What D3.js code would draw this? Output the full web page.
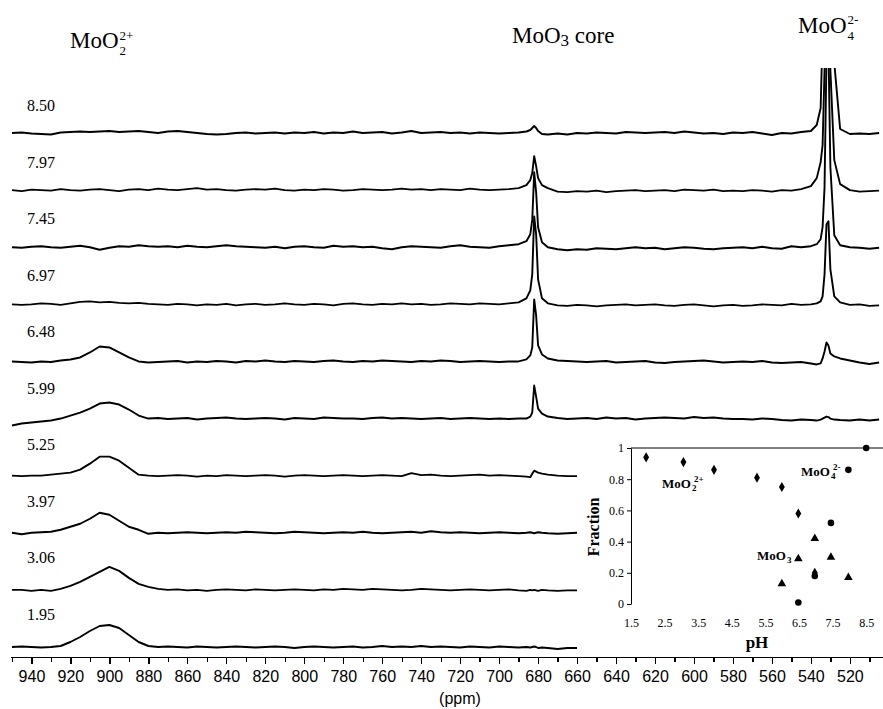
<!DOCTYPE html>
<html lang="en">
<head>
<meta charset="utf-8">
<title>Mo NMR spectra vs pH</title>
<script src="https://cdn.jsdelivr.net/npm/d3@7"></script>
<style>
  body { margin: 0; background: #fff; }
  .trace { fill: none; stroke: #000; stroke-width: 1.9px; stroke-linejoin: round; }
  .axis path, .axis line { fill: none; stroke: #000; stroke-width: 1.3px; shape-rendering: crispEdges; }
  .axis text { font-family: "Liberation Sans", Arial, sans-serif; font-size: 16px; fill: #000; }
  .serif { font-family: "Liberation Serif", "Times New Roman", serif; fill: #000; }
  .inset path.domain, .inset line { stroke: #000; stroke-width: 1px; }
  .inset text { font-family: "Liberation Serif", "Times New Roman", serif; font-size: 12px; fill: #000; }
</style>
</head>
<body>
<script>
// ---------- data ----------
// chemical shift grid (ppm), shared by all spectra
var ppm = [950, 945, 940, 935, 930, 925, 920, 915, 910, 905,
           900, 895, 890, 885, 880, 875, 870, 865, 860, 855,
           850, 845, 840, 835, 830, 825, 820, 815, 810, 805,
           800, 795, 790, 785, 780, 775, 770, 765, 760, 755,
           750, 745, 740, 735, 730, 725, 720, 715, 710, 705,
           700, 695, 690, 686, 684, 683, 682, 681, 680, 678,
           675, 670, 665, 660, 655, 650, 645, 640, 635, 630,
           625, 620, 615, 610, 605, 600, 595, 590, 585, 580,
           575, 570, 565, 560, 555, 550, 545, 540, 537, 535,
           534, 533, 532, 531, 530, 528, 525, 520, 515, 510,
           505];

var phLabels = ["8.50", "7.97", "7.45", "6.97", "6.48", "5.99", "5.25", "3.97", "3.06", "1.95"];

// intensities (arbitrary units), one per ppm point
var spec850 = [0, 0.5, -0.5, -1, -1.5, 0.5, 1, 1.5, 1, 1.5,
               2, 1, 1.5, 2, 1, 0, 1.5, 2, 1, 0,
               -1, -1.5, -1, 0, 0.5, -0.5, 0, 0.5, -0.5, 0.5,
               0, 1, -0.5, 0.5, 0, 1.5, 0, 0.5, 1, -0.5,
               0.5, 2, 0, 0.5, 1, 0, 0.5, -0.5, 0.5, 0,
               -0.5, 0, 0.5, 1.5, 3, 5, 7, 5, 2, -1,
               -1.5, -0.5, -1.5, 0, -0.5, 0.5, 0, -0.5, 1, 0.5,
               0, 0.5, 1, 0, 1.5, 0.5, -0.5, 0, -1, 0.5,
               0, 1, -0.5, -2, 0, -0.5, 1, 2, 8, 25,
               100, 170, 170, 170, 160, 70, 4, -1, -0.5, -1,
               0];
var spec797 = [0, -1, 0.5, 0, -0.5, 1, 0, -0.5, 0.5, 1,
               0, -1, 0.5, 1, 0, 1.5, 0.5, 0, 1, 2,
               0.5, 1, 0, -0.5, 0.5, 1, 0.5, 1.5, 0, -0.5,
               0.5, 0, 1, 0.5, -0.5, 0, 1, 0.5, 0, 0.5,
               1.5, 0.5, 1, 0, 1, 0.5, 0, 1.5, 0.5, 0,
               0.5, 1, 2, 5, 10, 17, 34, 24, 12, 5,
               2, -1.5, -2, -1, -1.5, -0.5, -2, -1, -0.5, 0,
               -1, -0.5, 0, -1, 0.5, 0, -0.5, 0.5, -1, -0.5,
               -1, 0, -0.5, -1.5, 0, -0.5, 1, 4, 12, 28,
               45, 120, 200, 190, 120, 30, 6, 0, -1.5, -1,
               -0.5];
var spec745 = [0, -0.5, 0.5, 1, 0, -0.5, 0.5, 1.5, 0, -2.5,
               -0.5, 1, 0.5, 2, 1, 0.5, 1, 0, 1.5, 0.5,
               0, 1, 2, 1, 0.5, 0, -0.5, 0.5, -1, 0.5,
               1, 0, -0.5, 1.5, 0.5, 1, 0, 0.5, -1, -2,
               0, 1, 0.5, 0, -0.5, 1, 2, 0.5, 0, -0.5,
               1, 2, 3, 6, 13, 27, 75, 55, 20, 5,
               0, -2, -3, -2, -2.5, -1, -1.5, -2, -1, 0,
               -1, -0.5, -2, -1, 0, -0.5, -1.5, -2, -1, -0.5,
               0, -1, 0.5, -1, -1.5, 1, 0, 1, 3, 8,
               20, 60, 190, 200, 80, 12, 2, 0, -0.5, -1.5,
               -0.5];
var spec697 = [0, -0.5, 0, 1, 0.5, -0.5, 1, 2.5, 3, 2,
               2.5, 1.5, 1, 1.5, 0.5, 0, -0.5, 0.5, 0, -1,
               0, -0.5, 0.5, -1, 0, 0.5, -0.5, 0, 1, 0,
               -0.5, 0.5, 0, -1, 0.5, 1, 0, -0.5, 0.5, 0,
               1, 0, 0.5, -0.5, 0, 1, 0.5, 0, 1, 0.5,
               0, 1, 2, 6, 14, 30, 88, 70, 25, 6,
               1, -1, -1.5, -0.5, -1, -2, -1, -0.5, 0, -1,
               -0.5, 0, -1, -1.5, -0.5, 0, -1, -2, -1, -0.5,
               -1.5, -1, 0, -0.5, -1, 0.5, -0.5, 0, 1, 3,
               8, 30, 80, 83, 35, 8, 2, -0.5, 0, -1.5,
               -1];
var spec648 = [0, -0.5, -1, 0, -0.5, 1, 2, 4, 9, 15,
               14, 9, 4, 0, -1, -0.5, 0, 0.5, -1, 0,
               -0.5, 0.5, 0, -1, 0.5, 0, 1, 0, -0.5, 0.5,
               0, -0.5, 0.5, 1, 0, -0.5, 0.5, 0, 1, 0.5,
               0, -0.5, 0.5, 0, 1, 0.5, -0.5, 0, 0.5, 0,
               -0.5, 0, 0, 2, 6, 14, 62, 46, 16, 7,
               3, 1, 0.5, 0, -0.5, 0, 0.5, -1, -0.5, 0,
               0.5, -1, -1.5, -0.5, 0, 0.5, 1, 0, -1, -0.5,
               0, -0.5, 0.5, -1, -1.5, -1, -0.5, -2, -3, -2,
               3, 10, 19, 16, 8, 5, 3, 1, -1, -2.5,
               -1];
var spec599 = [-7, -5, -4, -3, -2, 0, 3, 6, 10, 15,
               16, 14, 9, 3, 0, 0.5, -0.5, 0, 0.5, -1,
               0, 0.5, 1, 0, -0.5, 0, 0.5, 0, -1, 0.5,
               0, -0.5, 1, 0.5, 0, 0, -0.5, 0.5, 1, 0,
               0.5, 0, -0.5, 0, 0.5, -0.5, 0, 0.5, 0, -0.5,
               0, -0.5, 0, 0, 2, 6, 33, 22, 10, 5,
               2, 0.5, -0.5, 0, 0.5, -0.5, 1, 0, 0.5, -1,
               0, 0.5, 1, 0.5, 0, 1.5, 0.5, 1, 0, -0.5,
               -0.5, -1, 0, -0.5, -1.5, -2, -1, -1.5, -2, -1,
               0, 1, 2, 1.5, 0, -1, -1.5, -2, -1, -2,
               -1];
// the lower four traces stop at 660 ppm (inset)
var spec525 = [0, -0.5, 0, 0, 1, 2, 3, 6, 12, 19,
               19, 15, 8, 1, 0, -0.5, 0, 0.5, 0, -1,
               0, -0.5, 0.5, 0, -0.5, 0, 0.5, 0, -1, 0,
               0.5, 0, -0.5, 0, 0.5, 0, -0.5, 0, 0.5, 0,
               -0.5, 2.5, 0.5, 1, 0, -0.5, 0, 0.5, 1, 0,
               0.5, 0, -0.5, -1, -1.5, 2, 5, 4, 3, 2,
               1, 0, -0.5, -0.5];
var spec397 = [0, -1.5, 0, 0.5, 1, 3, 6, 9, 14, 20,
               18, 12, 6, 3, -1, 0, -0.5, 0, 0.5, 0,
               -0.5, 0, 0.5, 0, 1, 0.5, 0, -0.5, 0, 1,
               0.5, 0, -0.5, 0, 0.5, 0, 1, 0, -0.5, 0,
               0.5, 1, 0, 1.5, 0.5, 0, 0.5, 0, -0.5, 0,
               0.5, 0, -0.5, 0, 0.5, 0, -0.5, 0, 0.5, 0,
               -0.5, -1, -0.5, 0];
var spec306 = [0, 0, -1, 0, -1, 1, 4, 8, 13, 18,
               23, 19, 12, 6, 3, 1, 0, 0.5, -0.5, 0,
               -1, 0, 0.5, 0, -0.5, 0.5, 0, -0.5, 0, 0.5,
               0, -0.5, 0.5, 0, 1, 0.5, 0, 1, 0.5, 0,
               -0.5, 0, 1, 0.5, 0, -0.5, 0, 0.5, 0, -0.5,
               0, 0.5, -0.5, -1, 0, -0.5, 0, -0.5, -1, 0,
               -0.5, -1, -0.5, -0.5];
var spec195 = [0, 0.5, 0, -0.5, 0, 1, 5, 10, 16, 21,
               22, 19, 12, 5, 1, 0, 0.5, 0, -0.5, 0.5,
               0, -0.5, 0, 0.5, 0, -0.5, 0, 0.5, 0, -1,
               0, 0.5, 0, -0.5, 0, 0.5, -0.5, 0, 1, 0,
               0.5, 0, 1, 0, 0.5, 0, -0.5, 0.5, 0, -0.5,
               0.5, 0, -0.5, 0, -0.5, 0, 0.5, 0, -1, -0.5,
               -1, -2, -1, -1];

var spectra = [spec850, spec797, spec745, spec697, spec648, spec599, spec525, spec397, spec306, spec195];

// inset: species fraction vs pH
var phMoO2 = [1.95, 3.06, 3.97, 5.25, 5.99, 6.48, 6.97];
var frMoO2 = [0.94, 0.91, 0.86, 0.81, 0.75, 0.58, 0.20];
var phMoO3 = [5.99, 6.48, 6.97, 7.45, 7.97];
var frMoO3 = [0.13, 0.29, 0.42, 0.30, 0.17];
var phMoO4 = [6.48, 6.97, 7.45, 7.97, 8.50];
var frMoO4 = [0.01, 0.18, 0.52, 0.86, 1.00];

var ppmTicks = d3.range(950, 505, -10);
var fracTicks = [0, 0.2, 0.4, 0.6, 0.8, 1];
var phTicks = [1.5, 2.5, 3.5, 4.5, 5.5, 6.5, 7.5, 8.5];

// ---------- svg ----------
var w = 883, h = 709;
var svg = d3.select("body").append("svg")
  .attr("width", w)
  .attr("height", h);

var x = d3.scaleLinear().domain([951, 503]).range([10, 883]);
var yBase = d3.scalePoint().domain(phLabels).range([133, 647]);
var yLab = d3.scalePoint().domain(phLabels).range([111, 620]);
var amp = d3.scaleLinear().domain([0, 100]).range([0, -100]);

// clip the overflowing MoO4 peaks
svg.append("defs").append("clipPath")
  .attr("id", "clip")
  .append("rect")
  .attr("x", 0).attr("y", 68)
  .attr("width", w).attr("height", h - 68);

var line = d3.line()
  .x(function(d, i) { return x(ppm[i]); })
  .y(function(d) { return amp(d); });

var traces = svg.append("g").attr("clip-path", "url(#clip)");
spectra.forEach(function(s, k) {
  traces.append("path")
    .attr("class", "trace")
    .attr("transform", "translate(0," + yBase(phLabels[k]) + ")")
    .attr("d", line(s));
});

// pH labels
svg.selectAll(".phlab")
  .data(phLabels)
  .enter().append("text")
  .attr("class", "serif phlab")
  .attr("x", 27)
  .attr("y", function(d) { return yLab(d); })
  .style("font-size", "16px")
  .text(function(d) { return d; });

// ppm axis
var xAxis = d3.axisBottom(x)
  .tickValues(ppmTicks)
  .tickSize(5)
  .tickSizeOuter(0)
  .tickPadding(9)
  .tickFormat(function(d) { return (d % 20 === 0 && d < 950) ? d : ""; });

var gX = svg.append("g")
  .attr("class", "axis")
  .attr("transform", "translate(0,657)")
  .call(xAxis);
gX.selectAll(".tick line").attr("y2", function(d) { return d % 20 === 0 ? 7 : 5; });

svg.append("text")
  .attr("x", 460).attr("y", 704)
  .attr("text-anchor", "middle")
  .style("font-family", "'Liberation Sans', Arial, sans-serif")
  .style("font-size", "16px")
  .text("(ppm)");

// ---------- headers ----------
function chem(parent, o) {
  var g = parent.append("g").attr("class", "serif")
    .style("font-weight", o.bold ? "bold" : "normal");
  var t = g.append("text").attr("x", o.x).attr("y", o.y)
    .style("font-size", o.size + "px").text(o.base);
  var xe = o.x + t.node().getComputedTextLength();
  if (o.sub) g.append("text").attr("x", xe + 1).attr("y", o.y + o.subDy)
    .style("font-size", o.small + "px").text(o.sub);
  if (o.sup) g.append("text").attr("x", xe + (o.supDx || 1)).attr("y", o.y + o.supDy)
    .style("font-size", o.small + "px").text(o.sup);
}

chem(svg, { x: 70, y: 48, size: 23, small: 13, base: "MoO", sub: "2", subDy: 7, sup: "2+", supDy: -8 });
chem(svg, { x: 798, y: 33, size: 23, small: 13, base: "MoO", sub: "4", subDy: 7, sup: "2-", supDy: -9 });

var core = svg.append("text").attr("class", "serif")
  .attr("x", 512).attr("y", 43)
  .style("font-size", "23px");
core.append("tspan").text("MoO");
core.append("tspan").attr("dy", 3).style("font-size", "17px").text("3");
core.append("tspan").attr("dy", -3).text(" core");

// ---------- inset ----------
var ix = d3.scaleLinear().domain([1.5, 9]).range([631, 883]);
var iy = d3.scaleLinear().domain([0, 1]).range([604, 448]);

var inset = svg.append("g").attr("class", "inset");

inset.append("line")
  .attr("x1", ix(1.5)).attr("x2", ix(9))
  .attr("y1", iy(1)).attr("y2", iy(1));

inset.append("g")
  .attr("transform", "translate(" + ix(1.5) + ",0)")
  .call(d3.axisLeft(iy)
    .tickValues(fracTicks)
    .tickSize(4)
    .tickSizeOuter(0)
    .tickPadding(3)
    .tickFormat(function(d) { return String(+d.toFixed(1)); }));

var gpx = inset.append("g")
  .attr("transform", "translate(0," + iy(0) + ")")
  .call(d3.axisBottom(ix)
    .tickValues(phTicks)
    .tickSize(0)
    .tickPadding(14)
    .tickFormat(d3.format(".1f")));
gpx.select(".domain").remove();

inset.append("text")
  .attr("transform", "translate(593,527) rotate(-90)")
  .attr("dy", "0.35em")
  .attr("text-anchor", "middle")
  .style("font-size", "16px").style("font-weight", "bold")
  .text("Fraction");

inset.append("text")
  .attr("x", 757).attr("y", 648)
  .attr("text-anchor", "middle")
  .style("font-size", "17px").style("font-weight", "bold")
  .text("pH");

function markers(ph, fr, type, size) {
  inset.selectAll(null)
    .data(ph)
    .enter().append("path")
    .attr("transform", function(d, i) { return "translate(" + ix(d) + "," + iy(fr[i]) + ")"; })
    .attr("d", d3.symbol().type(type).size(size)())
    .attr("fill", "#000");
}
markers(phMoO2, frMoO2, d3.symbolDiamond, 30);
markers(phMoO3, frMoO3, d3.symbolTriangle, 32);
markers(phMoO4, frMoO4, d3.symbolCircle, 34);

chem(inset, { bold: true, x: 662, y: 488, size: 13, small: 9, base: "MoO", sub: "2", subDy: 3, sup: "2+", supDy: -6, supDx: 3 });
chem(inset, { bold: true, x: 801, y: 476, size: 13, small: 9, base: "MoO", sub: "4", subDy: 3, sup: "2-", supDy: -6, supDx: 3 });
chem(inset, { bold: true, x: 757, y: 560, size: 13, small: 9, base: "MoO", sub: "3", subDy: 3 });
</script>
</body>
</html>
